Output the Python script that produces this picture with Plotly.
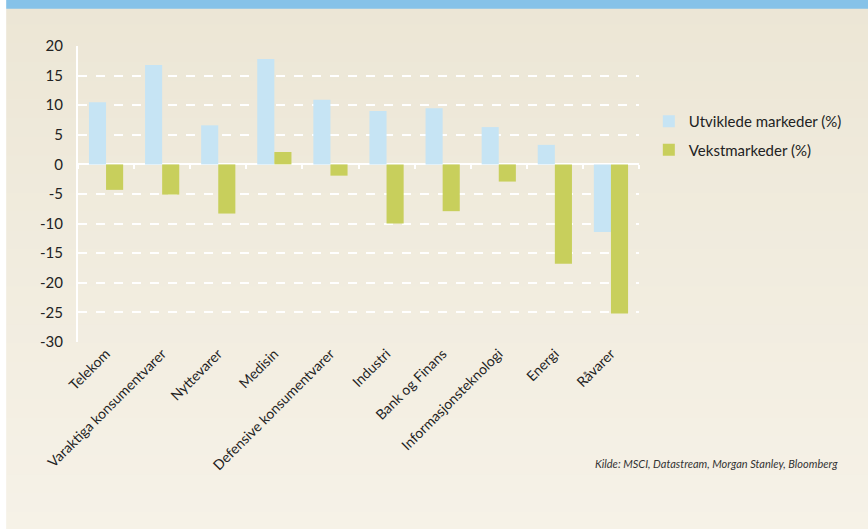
import plotly.graph_objects as go

# Data
categories = ["Telekom", "Varaktiga konsumentvarer", "Nyttevarer", "Medisin",
              "Defensive konsumentvarer", "Industri", "Bank og Finans",
              "Informasjonsteknologi", "Energi", "Råvarer"]
utviklede = [10.5, 16.8, 6.6, 17.8, 10.9, 9.0, 9.5, 6.3, 3.3, -11.4]
vekst = [-4.3, -5.1, -8.3, 2.1, -1.9, -10.0, -7.9, -2.9, -16.8, -25.2]
y_ticks = [20, 15, 10, 5, 0, -5, -10, -15, -20, -25, -30]

FONT = "Lato, 'Open Sans', sans-serif"

fig = go.Figure()
fig.add_trace(go.Bar(name="Utviklede markeder (%)", x=categories, y=utviklede,
                     legendgroup="a",
                     marker=dict(color="#C6E4F4", line_width=0)))
fig.add_trace(go.Bar(name="Vekstmarkeder (%)", x=categories, y=vekst,
                     legendgroup="b",
                     marker=dict(color="#C8CF5C", line_width=0)))
# helper (invisible) trace so the zero-line tick axis gets drawn
fig.add_trace(go.Scatter(x=categories, y=[0] * len(categories), xaxis="x2",
                         mode="none", showlegend=False, hoverinfo="skip"))

# background: light beige gradient approximated with bands
top = (236, 230, 213)
bottom = (246, 242, 232)
n = 30
y_top, y_bot = 1.2, -0.7
shapes = []
for i in range(n):
    t = i / (n - 1)
    c = tuple(round(top[k] + (bottom[k] - top[k]) * t) for k in range(3))
    h = (y_top - y_bot) / n
    shapes.append(dict(type="rect", xref="paper", yref="paper", layer="below",
                       x0=-0.2, x1=1.5, y0=y_top - (i + 1) * h - 0.002, y1=y_top - i * h,
                       fillcolor="rgb(%d,%d,%d)" % c, line_width=0))
# blue header band and white left strip
shapes.append(dict(type="rect", xref="paper", yref="paper", layer="below",
                   x0=-0.2, x1=1.5, y0=1.126, y1=1.2, fillcolor="#86C2E8", line_width=0))
shapes.append(dict(type="rect", xref="paper", yref="paper", layer="below",
                   x0=-0.2, x1=-0.128, y0=-0.7, y1=1.2, fillcolor="white", line_width=0))

fig.update_layout(
    width=868, height=529,
    margin=dict(l=78, r=229, t=46, b=187, autoexpand=False),
    paper_bgcolor="#F1ECDF", plot_bgcolor="rgba(0,0,0,0)",
    barmode="group", bargap=0.39, bargroupgap=0,
    font=dict(family=FONT, size=14, color="#222"),
    shapes=shapes,
    showlegend=True,
    legend=dict(x=1.0175, y=0.698, xanchor="left", yanchor="middle",
                bgcolor="rgba(0,0,0,0)", font=dict(size=15, color="#222"),
                tracegroupgap=6, itemwidth=30),
    annotations=[dict(text="<i>Kilde: MSCI, Datastream, Morgan Stanley, Bloomberg</i>",
                      xref="paper", yref="paper", x=1.358, y=-0.409,
                      xanchor="right", yanchor="middle", showarrow=False,
                      font=dict(size=11, color="#333"))],
    xaxis=dict(tickangle=-45, showgrid=False, showline=False, ticks="",
               tickfont=dict(size=14), automargin=False),
    # small white tick marks between categories along the zero line
    xaxis2=dict(overlaying="x", anchor="free", position=0.6, side="bottom",
                matches="x", tickson="boundaries",
                ticks="outside", ticklen=4, tickwidth=2, tickcolor="white",
                showticklabels=False, showgrid=False, zeroline=False,
                showline=False, automargin=False),
    yaxis=dict(range=[-30, 20], tickvals=y_ticks,
               ticktext=[str(v) for v in y_ticks], showgrid=True,
               gridcolor="white", griddash="dash", gridwidth=2,
               zeroline=True, zerolinecolor="white", zerolinewidth=2,
               showline=True, linecolor="white", linewidth=2,
               ticks="", tickfont=dict(size=15), ticklabelstandoff=10,
               automargin=False),
)

# remove the page's default body margin so the figure sits at the window corner
fig.write_html("out.html", config={"displayModeBar": False},
               post_script="document.body.style.margin='0';")
